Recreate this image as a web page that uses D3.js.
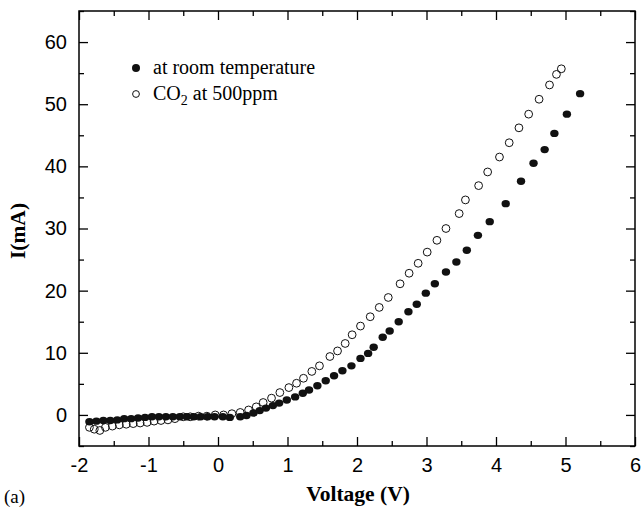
<!DOCTYPE html>
<html><head><meta charset="utf-8">
<script src="https://cdn.jsdelivr.net/npm/d3@7"></script>
<style>body{margin:0;background:#fff}svg{display:block}</style>
</head><body>
<svg id="chart" width="643" height="509"></svg>
<script>
// Room temperature (filled) : [V, mA]
const roomV = [-1.85,-1.75,-1.65,-1.55,-1.45,-1.35,-1.25,-1.15,-1.05,-0.95,-0.85,-0.75,-0.65,-0.55,-0.45,-0.35,-0.25,-0.15,-0.05,0.07,0.17,0.32,0.41,0.51,0.60,0.69,0.79,0.88,0.99,1.11,1.22,1.31,1.43,1.55,1.67,1.79,1.92,2.05,2.16,2.24,2.37,2.47,2.60,2.74,2.86,2.99,3.12,3.28,3.43,3.58,3.74,3.91,4.14,4.36,4.54,4.70,4.84,5.02,5.21];
const roomI = [-1.1,-1.0,-0.9,-0.9,-0.8,-0.6,-0.6,-0.5,-0.4,-0.3,-0.3,-0.3,-0.3,-0.3,-0.3,-0.3,-0.3,-0.3,-0.3,-0.3,-0.4,-0.3,-0.1,0.3,0.7,1.1,1.5,1.9,2.4,2.9,3.5,4.0,4.7,5.5,6.3,7.1,7.9,9.1,9.9,10.9,12.5,13.5,15.0,16.6,17.8,19.6,21.1,23.0,24.6,26.5,28.9,31.1,34.0,37.6,40.5,42.7,45.3,48.4,51.7];
// CO2 at 500ppm (open)
const co2V = [-1.85,-1.78,-1.70,-1.62,-1.52,-1.42,-1.32,-1.22,-1.12,-1.02,-0.92,-0.82,-0.72,-0.62,-0.50,-0.40,-0.28,-0.16,-0.04,0.08,0.20,0.32,0.44,0.55,0.65,0.77,0.89,1.02,1.13,1.23,1.35,1.46,1.61,1.72,1.83,1.93,2.05,2.19,2.32,2.45,2.62,2.75,2.88,3.01,3.15,3.28,3.47,3.56,3.75,3.88,4.05,4.19,4.33,4.47,4.62,4.77,4.87,4.94];
const co2I = [-2.0,-2.3,-2.5,-2.0,-1.8,-1.6,-1.5,-1.4,-1.3,-1.2,-1.0,-0.9,-0.8,-0.6,-0.3,-0.3,-0.2,-0.2,0.0,0.0,0.2,0.4,0.8,1.3,2.0,2.7,3.6,4.4,5.1,5.9,7.0,7.9,9.4,10.3,11.5,12.9,14.3,15.8,17.3,18.9,21.1,22.8,24.4,26.2,28.1,30.0,32.4,34.6,36.9,39.1,41.5,43.8,46.2,48.4,50.8,53.1,54.8,55.7];
const xTicks = [-2,-1,0,1,2,3,4,5,6];
const yTicks = [0,10,20,30,40,50,60];
const xMinor = [-1.5,-0.5,0.5,1.5,2.5,3.5,4.5,5.5];
const yMinor = [-5,5,15,25,35,45,55,65];
const legendLabels = ["at room temperature", "CO"];

const svg = d3.select("#chart");
const m = {l:79, r:8, t:11, b:63};
const W = 643, H = 509;
const x = d3.scaleLinear().domain([-2,6]).range([m.l, W-m.r]);
const y = d3.scaleLinear().domain([-5,65]).range([H-m.b, m.t]);

const tickFont = "'Liberation Sans', Arial, sans-serif";
const serif = "'Liberation Serif', 'Times New Roman', serif";
const fmt = d => String(d);

function styleAxis(g){ g.select(".domain").remove(); g.selectAll("line").attr("stroke","#000").attr("stroke-width",1.3); }
const bottom = svg.append("g").attr("transform",`translate(0,${H-m.b})`)
  .call(d3.axisBottom(x).tickValues(xTicks).tickSize(-9).tickPadding(12).tickFormat(fmt));
styleAxis(bottom);
bottom.selectAll("text").attr("font-family",tickFont).attr("font-size",20).attr("fill","#000");
svg.append("g").attr("transform",`translate(0,${H-m.b})`).call(d3.axisBottom(x).tickValues(xMinor).tickSize(-5).tickFormat("")).call(styleAxis);
svg.append("g").attr("transform",`translate(0,${m.t})`).call(d3.axisTop(x).tickValues(xTicks).tickSize(-9).tickFormat("")).call(styleAxis);
svg.append("g").attr("transform",`translate(0,${m.t})`).call(d3.axisTop(x).tickValues(xMinor).tickSize(-5).tickFormat("")).call(styleAxis);

const left = svg.append("g").attr("transform",`translate(${m.l},0)`)
  .call(d3.axisLeft(y).tickValues(yTicks).tickSize(-9).tickPadding(12).tickFormat(fmt));
styleAxis(left);
left.selectAll("text").attr("font-family",tickFont).attr("font-size",20).attr("fill","#000");
svg.append("g").attr("transform",`translate(${m.l},0)`).call(d3.axisLeft(y).tickValues(yMinor).tickSize(-5).tickFormat("")).call(styleAxis);
svg.append("g").attr("transform",`translate(${W-m.r},0)`).call(d3.axisRight(y).tickValues(yTicks).tickSize(-9).tickFormat("")).call(styleAxis);
svg.append("g").attr("transform",`translate(${W-m.r},0)`).call(d3.axisRight(y).tickValues(yMinor).tickSize(-5).tickFormat("")).call(styleAxis);

svg.append("rect").attr("x",m.l).attr("y",m.t).attr("width",W-m.l-m.r).attr("height",H-m.t-m.b)
  .attr("fill","none").attr("stroke","#000").attr("stroke-width",1.5);

const room = roomV.map((v,i)=>({v, i:roomI[i]}));
const co2 = co2V.map((v,i)=>({v, i:co2I[i]}));
svg.append("g").selectAll("ellipse").data(room).join("ellipse")
  .attr("cx",d=>x(d.v)).attr("cy",d=>y(d.i)).attr("rx",4.2).attr("ry",3.7).attr("fill","#111");
svg.append("g").selectAll("circle").data(co2).join("circle")
  .attr("cx",d=>x(d.v)).attr("cy",d=>y(d.i)).attr("r",3.9).attr("fill","none").attr("stroke","#111").attr("stroke-width",1);

// legend
svg.append("circle").attr("cx",136).attr("cy",68).attr("r",4).attr("fill","#111");
svg.append("circle").attr("cx",136).attr("cy",94).attr("r",3.4).attr("fill","none").attr("stroke","#111").attr("stroke-width",1);
svg.append("text").attr("x",153).attr("y",74).attr("font-family",serif).attr("font-size",20).text(legendLabels[0]);
const t2 = svg.append("text").attr("x",153).attr("y",100).attr("font-family",serif).attr("font-size",20);
t2.append("tspan").text(legendLabels[1]);
t2.append("tspan").attr("dy",5).attr("font-size",14).text("2");
t2.append("tspan").attr("dy",-5).text(" at 500ppm");

// axis titles
svg.append("text").attr("x",358).attr("y",501).attr("text-anchor","middle").attr("font-family",serif)
  .attr("font-weight","bold").attr("font-size",21.5).text("Voltage (V)");
svg.append("text").attr("transform","translate(25,231) rotate(-90)").attr("text-anchor","middle").attr("font-family",serif)
  .attr("font-weight","bold").attr("font-size",21.5).text("I(mA)");
svg.append("text").attr("x",4).attr("y",503).attr("font-family",serif).attr("font-size",19).text("(a)");
</script>
</body></html>
